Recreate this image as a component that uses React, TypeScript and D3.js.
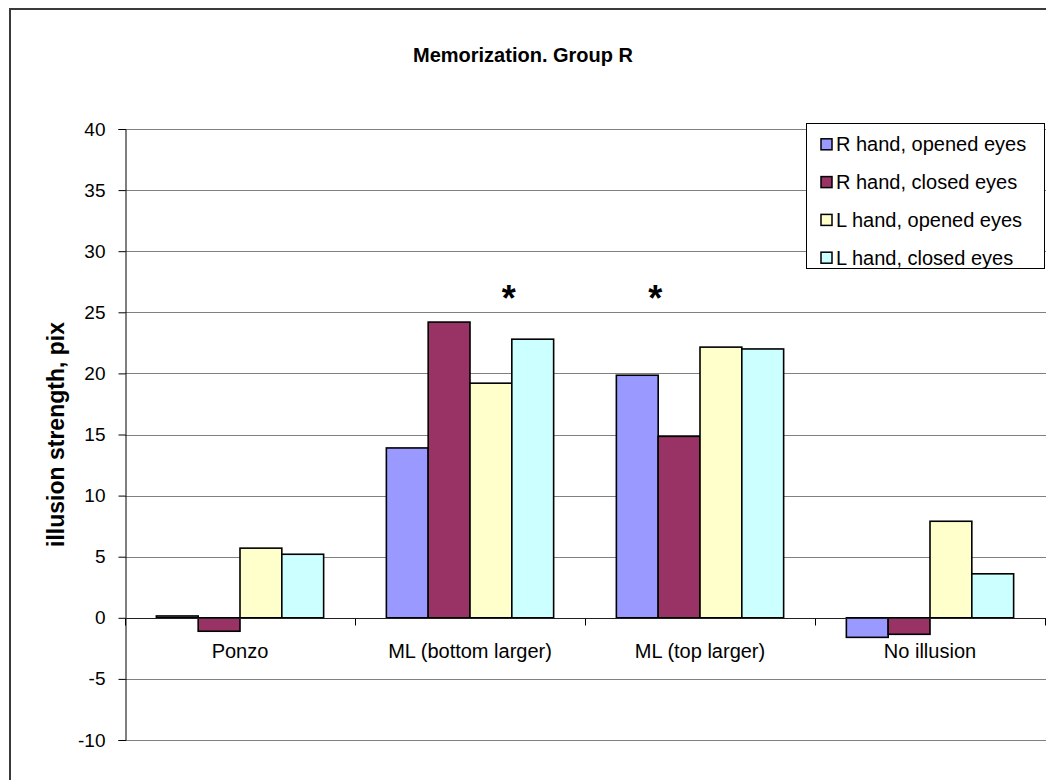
import React, { useEffect, useRef } from 'react';
import * as d3 from 'd3';

const categories = ['Ponzo', 'ML (bottom larger)', 'ML (top larger)', 'No illusion'];
const seriesNames = ['R hand, opened eyes', 'R hand, closed eyes', 'L hand, opened eyes', 'L hand, closed eyes'];
const seriesColors = ['#9999FF', '#993366', '#FFFFCC', '#CCFFFF'];

const rHandOpened = [0.15, 13.9, 19.85, -1.6];
const rHandClosed = [-1.1, 24.2, 14.85, -1.35];
const lHandOpened = [5.7, 19.2, 22.15, 7.9];
const lHandClosed = [5.2, 22.8, 22.0, 3.6];

const yTicks = [-10, -5, 0, 5, 10, 15, 20, 25, 30, 35, 40];

// asterisks: category + series whose left edge they sit on
const significance = [
  { category: 'ML (bottom larger)', series: 'L hand, closed eyes', value: 26.6 },
  { category: 'ML (top larger)', series: 'R hand, closed eyes', value: 26.6 },
];

const App: React.FC = () => {
  const svgRef = useRef<SVGSVGElement>(null);

  useEffect(() => {
    if (!svgRef.current) return;
    const svg = d3.select(svgRef.current);
    svg.selectAll('*').remove();

    const font = 'Arial, "Liberation Sans", sans-serif';
    const values = [rHandOpened, rHandClosed, lHandOpened, lHandClosed];

    // 外枠
    svg
      .append('rect')
      .attr('x', 10)
      .attr('y', 9)
      .attr('width', 1100)
      .attr('height', 800)
      .attr('fill', 'white')
      .attr('stroke', '#3a3a3a')
      .attr('stroke-width', 2);

    const x0 = d3.scaleBand().domain(categories).range([125, 1045]).paddingInner(0).paddingOuter(0);
    const x1 = d3
      .scaleBand()
      .domain(seriesNames)
      .range([0, x0.bandwidth()])
      .paddingInner(0)
      .paddingOuter(0.75);
    const y = d3.scaleLinear().domain([-10, 40]).range([740, 129]);

    // グリッド線
    svg
      .append('g')
      .selectAll('line')
      .data(yTicks.filter((t) => t !== 0))
      .enter()
      .append('line')
      .attr('x1', 125)
      .attr('x2', 1046)
      .attr('y1', (d) => Math.round(y(d)) + 0.5)
      .attr('y2', (d) => Math.round(y(d)) + 0.5)
      .attr('stroke', '#808080')
      .attr('stroke-width', 1);

    // Y軸
    const yAxis = svg
      .append('g')
      .attr('transform', 'translate(125.5,0)')
      .call(
        d3
          .axisLeft(y)
          .tickValues(yTicks)
          .tickSize(7)
          .tickPadding(13)
          .tickFormat((d) => String(d))
      );
    yAxis.select('.domain').attr('stroke', 'black');
    yAxis.selectAll('.tick line').attr('stroke', 'black');
    yAxis
      .selectAll('.tick text')
      .attr('font-family', font)
      .attr('font-size', 19)
      .attr('fill', 'black');

    // 棒
    categories.forEach((cat, ci) => {
      svg
        .append('g')
        .selectAll('rect')
        .data(seriesNames)
        .enter()
        .append('rect')
        .attr('x', (s) => (x0(cat) || 0) + (x1(s) || 0))
        .attr('y', (s, si) => y(Math.max(0, values[si][ci])))
        .attr('width', x1.bandwidth())
        .attr('height', (s, si) => Math.abs(y(values[si][ci]) - y(0)))
        .attr('fill', (s, si) => seriesColors[si])
        .attr('stroke', 'black')
        .attr('stroke-width', 1.6);
    });

    // ゼロ線とカテゴリ目盛
    const zeroY = Math.round(y(0)) + 0.5;
    svg
      .append('line')
      .attr('x1', 125)
      .attr('x2', 1046)
      .attr('y1', zeroY)
      .attr('y2', zeroY)
      .attr('stroke', '#202020')
      .attr('stroke-width', 1);
    svg
      .append('g')
      .selectAll('line')
      .data([...categories.map((c) => x0(c) || 0), 1045])
      .enter()
      .append('line')
      .attr('x1', (d) => d + 0.5)
      .attr('x2', (d) => d + 0.5)
      .attr('y1', zeroY)
      .attr('y2', zeroY + 7)
      .attr('stroke', 'black');

    // カテゴリラベル
    svg
      .append('g')
      .selectAll('text')
      .data(categories)
      .enter()
      .append('text')
      .attr('x', (d) => (x0(d) || 0) + x0.bandwidth() / 2)
      .attr('y', 658)
      .attr('text-anchor', 'middle')
      .attr('font-family', font)
      .attr('font-size', 20)
      .text((d) => d);

    // 有意差マーク
    svg
      .append('g')
      .selectAll('text')
      .data(significance)
      .enter()
      .append('text')
      .attr('x', (d) => (x0(d.category) || 0) + (x1(d.series) || 0) - 3)
      .attr('y', (d) => y(d.value) + 18)
      .attr('text-anchor', 'middle')
      .attr('font-family', font)
      .attr('font-size', 36)
      .attr('font-weight', 'bold')
      .text('*');

    // タイトル
    svg
      .append('text')
      .attr('x', 523)
      .attr('y', 62)
      .attr('text-anchor', 'middle')
      .attr('font-family', font)
      .attr('font-size', 20)
      .attr('font-weight', 'bold')
      .text('Memorization. Group R');

    // Y軸タイトル
    svg
      .append('text')
      .attr('transform', `translate(64,${(y(40) + y(-10)) / 2}) rotate(-90)`)
      .attr('text-anchor', 'middle')
      .attr('font-family', font)
      .attr('font-size', 23)
      .attr('font-weight', 'bold')
      .text('illusion strength, pix');

    // 凡例
    const legend = svg.append('g');
    legend
      .append('rect')
      .attr('x', 806.5)
      .attr('y', 123.5)
      .attr('width', 238)
      .attr('height', 145)
      .attr('fill', 'white')
      .attr('stroke', 'black')
      .attr('stroke-width', 1);
    const items = legend
      .selectAll('g')
      .data(seriesNames)
      .enter()
      .append('g')
      .attr('transform', (d, i) => `translate(0,${144.3 + i * 37.8})`);
    items
      .append('rect')
      .attr('x', 821)
      .attr('y', -5.5)
      .attr('width', 11)
      .attr('height', 11)
      .attr('fill', (d, i) => seriesColors[i])
      .attr('stroke', 'black')
      .attr('stroke-width', 1.5);
    items
      .append('text')
      .attr('x', 836)
      .attr('y', 7)
      .attr('font-family', font)
      .attr('font-size', 20)
      .text((d) => d);
  }, []);

  return (
    <svg
      ref={svgRef}
      width={1046}
      height={780}
      style={{ position: 'absolute', left: 0, top: 0, background: 'white' }}
    ></svg>
  );
};

export default App;
